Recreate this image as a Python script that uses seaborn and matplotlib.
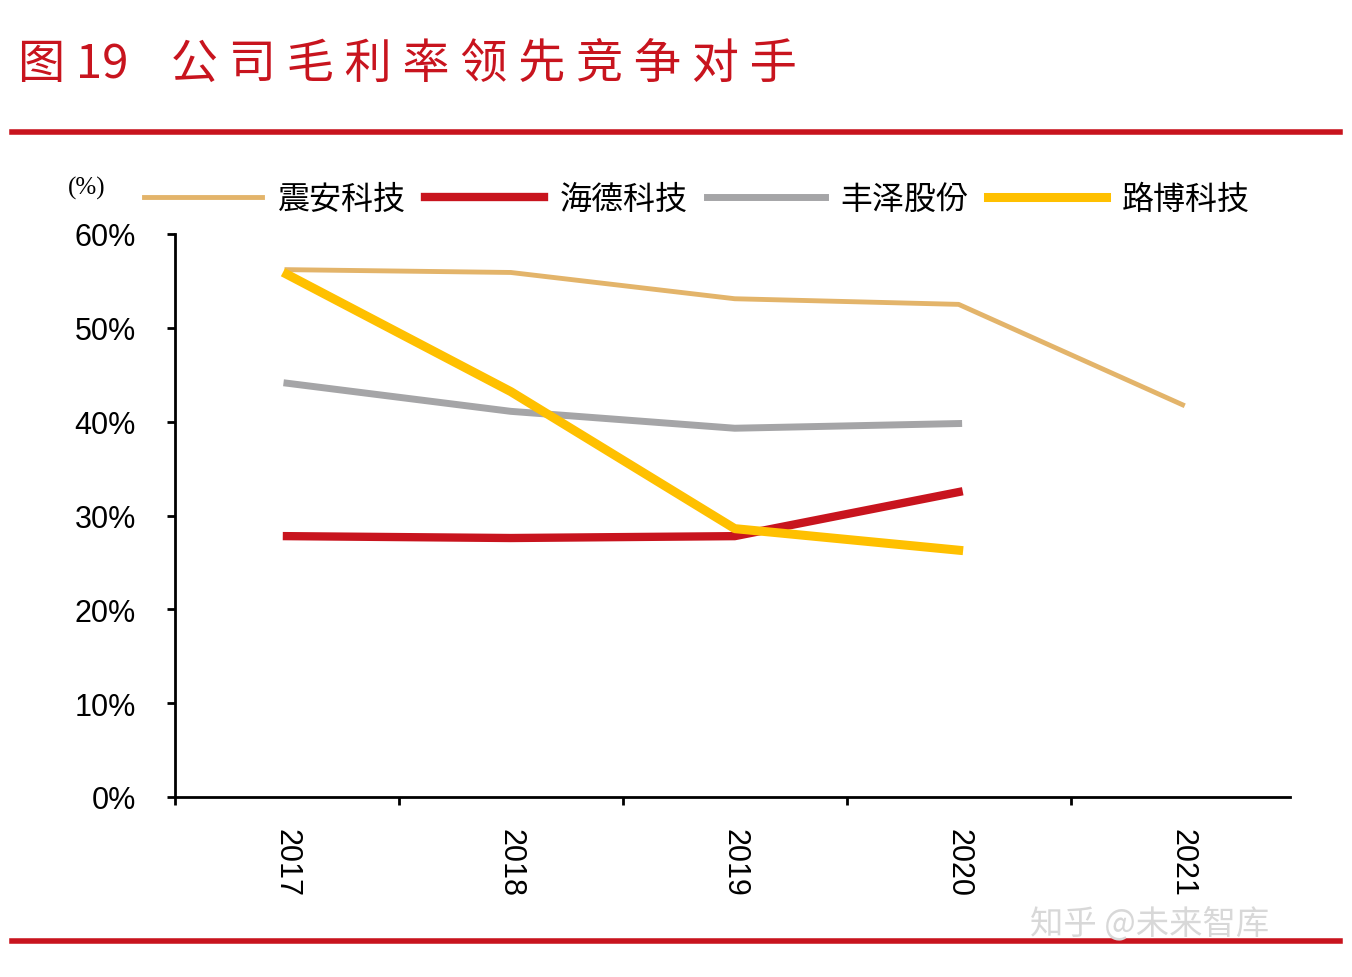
import matplotlib
matplotlib.use("Agg")
import matplotlib.pyplot as plt
from matplotlib import font_manager as fm
import seaborn as sns
import pandas as pd
import numpy as np

years = ["2017", "2018", "2019", "2020", "2021"]
zhenan = [56.2, 55.9, 53.1, 52.5, 41.8]
haide = [27.8, 27.6, 27.8, 32.5, None]
fengze = [44.1, 41.1, 39.3, 39.8, None]
lubo = [55.7, 43.2, 28.6, 26.3, None]
names = ["震安科技", "海德科技", "丰泽股份", "路博科技"]
colors = ["#E3B46A", "#C8141E", "#A5A5A7", "#FFC000"]
widths = [3.5, 6, 5, 6.5]

cjkprop = None
for f in fm.fontManager.ttflist:
    if "CJK" in f.name and "SC" in f.name:
        cjkprop = fm.FontProperties(fname=f.fname); break
if cjkprop is None:
    for f in fm.fontManager.ttflist:
        if "CJK" in f.name:
            cjkprop = fm.FontProperties(fname=f.fname); break
if cjkprop is None:
    cjkprop = fm.FontProperties(family="Noto Sans CJK SC")

rows = []
for n, vals in zip(names, [zhenan, haide, fengze, lubo]):
    for i, v in enumerate(vals):
        if v is not None:
            rows.append({"series": n, "x": i, "v": v})
df = pd.DataFrame(rows)

fig = plt.figure(figsize=(13.52, 9.78), dpi=100)
ax = fig.add_axes([175/1352, 1-798/978, (1290-175)/1352, (798-235)/978])
for n, c, w in zip(names, colors, widths):
    sns.lineplot(data=df[df.series == n], x="x", y="v", color=c, lw=w, ax=ax, label=n)

ax.set_xlim(-0.5, 4.48)
ax.set_ylim(0, 60)
ax.set_yticks(range(0, 61, 10))
ax.set_yticklabels([f"{t}%" for t in range(0, 61, 10)], fontsize=22, fontfamily="Liberation Sans")
ax.set_xticks(range(5))
ax.set_xticklabels(years, rotation=270, fontsize=22, fontfamily="Liberation Sans")
ax.tick_params(axis="x", length=0, pad=22)
ax.tick_params(axis="y", pad=22)
ax.set_xticks(np.arange(-0.5, 4.0, 1), minor=True)
ax.tick_params(axis="x", which="minor", length=6, width=2, direction="out")
ax.tick_params(axis="y", length=6, width=2, direction="out")
ax.set_xlabel(""); ax.set_ylabel("")
for s in ["top", "right"]:
    ax.spines[s].set_visible(False)
for s in ["left", "bottom"]:
    ax.spines[s].set_linewidth(2)
lp = cjkprop.copy(); lp.set_size(23)
ax.legend(loc="lower left", bbox_to_anchor=(-0.045, 1.0), ncol=4, frameon=False,
          prop=lp, handlelength=3.7, columnspacing=0.6, handletextpad=0.5, borderaxespad=0.2)

fig.text(68/1352, 1-188/978, "(%)", fontsize=18, ha="left", va="center", fontfamily="Liberation Serif")
tp = cjkprop.copy(); tp.set_size(34)
fig.text(18/1352, 1-65/978, "图 19    公 司 毛 利 率 领 先 竞 争 对 手", fontproperties=tp, color="#C8141E", ha="left", va="center")
fig.add_artist(plt.Line2D([12/1352, 1340/1352], [1-133/978]*2, color="#C8141E", lw=4))
fig.add_artist(plt.Line2D([12/1352, 1340/1352], [1-942/978]*2, color="#C8141E", lw=4))
wp = cjkprop.copy(); wp.set_size(24)
fig.text(1030/1352, 1-925/978, "知乎 @未来智库", fontproperties=wp, color="#D8D8D8", ha="left", va="center")
fig.savefig("out.png", dpi=100)
